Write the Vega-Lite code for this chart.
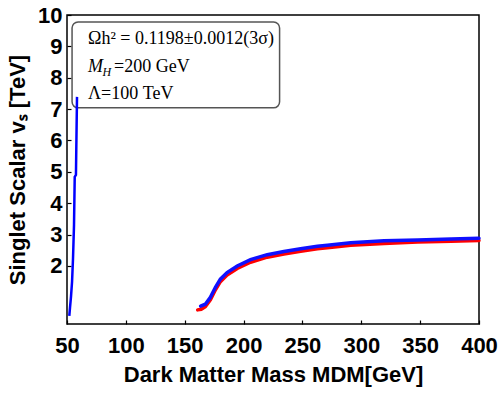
{
  "$schema": "https://vega.github.io/schema/vega-lite/v6.json",
  "width": 412,
  "height": 309,
  "autosize": {"type": "none"},
  "padding": {"left": 67, "top": 15, "right": 21, "bottom": 70},
  "config": {
    "view": {"stroke": "black", "strokeWidth": 1.5},
    "font": "Liberation Sans",
    "axis": {
      "grid": false,
      "domain": false,
      "tickSize": -4,
      "tickColor": "black",
      "tickWidth": 1.2,
      "labelFlush": false,
      "labelOverlap": false,
      "labelFont": "Liberation Sans",
      "labelFontSize": 22,
      "labelFontWeight": "bold",
      "labelColor": "black",
      "titleFont": "Liberation Sans",
      "titleFontSize": 22,
      "titleFontWeight": "bold",
      "titleColor": "black"
    }
  },
  "datasets": {
    "note": [{}],
    "left": [
      {"x": 51.96, "y": 0.41, "i": 0},
      {"x": 52.56, "y": 0.67, "i": 1},
      {"x": 53.4, "y": 1.02, "i": 2},
      {"x": 54.3, "y": 1.5, "i": 3},
      {"x": 55.1, "y": 2.23, "i": 4},
      {"x": 55.96, "y": 3.31, "i": 5},
      {"x": 56.56, "y": 4.84, "i": 6},
      {"x": 57.6, "y": 4.9, "i": 7},
      {"x": 58.5, "y": 7.39, "i": 8}
    ],
    "red": [
      {"x": 161.0, "y": 0.6},
      {"x": 164.0, "y": 0.62},
      {"x": 167.5, "y": 0.7},
      {"x": 171.8, "y": 0.92},
      {"x": 176.1, "y": 1.24},
      {"x": 180.3, "y": 1.5},
      {"x": 186.0, "y": 1.71},
      {"x": 194.6, "y": 1.92},
      {"x": 205.9, "y": 2.12},
      {"x": 220.1, "y": 2.28},
      {"x": 234.3, "y": 2.38},
      {"x": 248.5, "y": 2.47},
      {"x": 262.7, "y": 2.55},
      {"x": 271.2, "y": 2.58},
      {"x": 291.0, "y": 2.66},
      {"x": 319.4, "y": 2.72},
      {"x": 347.9, "y": 2.76},
      {"x": 376.3, "y": 2.79},
      {"x": 400.0, "y": 2.81}
    ],
    "blue": [
      {"x": 163.5, "y": 0.72},
      {"x": 167.5, "y": 0.78},
      {"x": 171.8, "y": 1.0},
      {"x": 176.1, "y": 1.32},
      {"x": 180.3, "y": 1.58},
      {"x": 186.0, "y": 1.79},
      {"x": 194.6, "y": 2.0},
      {"x": 205.9, "y": 2.2},
      {"x": 220.1, "y": 2.36},
      {"x": 234.3, "y": 2.46},
      {"x": 248.5, "y": 2.55},
      {"x": 262.7, "y": 2.63},
      {"x": 271.2, "y": 2.66},
      {"x": 291.0, "y": 2.74},
      {"x": 319.4, "y": 2.8},
      {"x": 347.9, "y": 2.83},
      {"x": 376.3, "y": 2.86},
      {"x": 400.0, "y": 2.88}
    ]
  },
  "layer": [
    {
      "data": {"name": "red"},
      "mark": {"type": "line", "color": "#ff0000", "strokeWidth": 3.5, "strokeCap": "round"},
      "encoding": {
        "x": {"field": "x", "type": "quantitative", "scale": {"domain": [50, 400], "nice": false, "zero": false},
          "axis": {"values": [50, 100, 150, 200, 250, 300, 350, 400], "title": "Dark Matter Mass MDM[GeV]", "labelPadding": 15, "titlePadding": 8}},
        "y": {"field": "y", "type": "quantitative", "scale": {"domain": [0.15, 10], "nice": false, "zero": false},
          "axis": {"values": [2, 3, 4, 5, 6, 7, 8, 9, 10], "title": "Singlet Scalar vₛ [TeV]", "labelPadding": 9, "titlePadding": 8}}
      }
    },
    {
      "data": {"name": "blue"},
      "mark": {"type": "line", "color": "#1010ff", "strokeWidth": 3.5, "strokeCap": "round"},
      "encoding": {
        "x": {"field": "x", "type": "quantitative", "scale": {"domain": [50, 400], "nice": false, "zero": false},
          "axis": {"values": [50, 100, 150, 200, 250, 300, 350, 400], "title": "Dark Matter Mass MDM[GeV]", "labelPadding": 15, "titlePadding": 8}},
        "y": {"field": "y", "type": "quantitative", "scale": {"domain": [0.15, 10], "nice": false, "zero": false},
          "axis": {"values": [2, 3, 4, 5, 6, 7, 8, 9, 10], "title": "Singlet Scalar vₛ [TeV]", "labelPadding": 9, "titlePadding": 8}}
      }
    },
    {
      "data": {"name": "note"},
      "mark": {"type": "rect", "fill": "white", "stroke": "#555555", "strokeWidth": 1.5, "cornerRadius": 6},
      "encoding": {
        "x": {"datum": 54.3, "type": "quantitative", "scale": {"domain": [50, 400], "nice": false, "zero": false},
          "axis": {"values": [50, 100, 150, 200, 250, 300, 350, 400], "title": "Dark Matter Mass MDM[GeV]", "labelPadding": 15, "titlePadding": 8}},
        "x2": {"datum": 230.6},
        "y": {"datum": 9.78, "type": "quantitative", "scale": {"domain": [0.15, 10], "nice": false, "zero": false},
          "axis": {"values": [2, 3, 4, 5, 6, 7, 8, 9, 10], "title": "Singlet Scalar vₛ [TeV]", "labelPadding": 9, "titlePadding": 8}},
        "y2": {"datum": 7.04}
      }
    },
    {
      "data": {"name": "left"},
      "mark": {"type": "line", "color": "#0000ff", "strokeWidth": 2.5},
      "encoding": {
        "x": {"field": "x", "type": "quantitative", "scale": {"domain": [50, 400], "nice": false, "zero": false},
          "axis": {"values": [50, 100, 150, 200, 250, 300, 350, 400], "title": "Dark Matter Mass MDM[GeV]", "labelPadding": 15, "titlePadding": 8}},
        "y": {"field": "y", "type": "quantitative", "scale": {"domain": [0.15, 10], "nice": false, "zero": false},
          "axis": {"values": [2, 3, 4, 5, 6, 7, 8, 9, 10], "title": "Singlet Scalar vₛ [TeV]", "labelPadding": 9, "titlePadding": 8}},
        "order": {"field": "i"}
      }
    },
    {
      "data": {"name": "note"},
      "mark": {"type": "text", "font": "Liberation Serif", "fontSize": 18, "align": "left", "baseline": "alphabetic", "color": "black"},
      "encoding": {
        "x": {"datum": 67.9, "type": "quantitative", "scale": {"domain": [50, 400], "nice": false, "zero": false},
          "axis": {"values": [50, 100, 150, 200, 250, 300, 350, 400], "title": "Dark Matter Mass MDM[GeV]", "labelPadding": 15, "titlePadding": 8}},
        "y": {"datum": 9.08, "type": "quantitative", "scale": {"domain": [0.15, 10], "nice": false, "zero": false},
          "axis": {"values": [2, 3, 4, 5, 6, 7, 8, 9, 10], "title": "Singlet Scalar vₛ [TeV]", "labelPadding": 9, "titlePadding": 8}},
        "text": {"value": "Ωh² = 0.1198±0.0012(3σ)"}
      }
    },
    {
      "data": {"name": "note"},
      "mark": {"type": "text", "font": "Liberation Serif", "fontSize": 18, "fontStyle": "italic", "align": "left", "baseline": "alphabetic", "color": "black"},
      "encoding": {
        "x": {"datum": 67.9, "type": "quantitative", "scale": {"domain": [50, 400], "nice": false, "zero": false},
          "axis": {"values": [50, 100, 150, 200, 250, 300, 350, 400], "title": "Dark Matter Mass MDM[GeV]", "labelPadding": 15, "titlePadding": 8}},
        "y": {"datum": 8.18, "type": "quantitative", "scale": {"domain": [0.15, 10], "nice": false, "zero": false},
          "axis": {"values": [2, 3, 4, 5, 6, 7, 8, 9, 10], "title": "Singlet Scalar vₛ [TeV]", "labelPadding": 9, "titlePadding": 8}},
        "text": {"value": "M"}
      }
    },
    {
      "data": {"name": "note"},
      "mark": {"type": "text", "font": "Liberation Serif", "fontSize": 12, "fontStyle": "italic", "align": "left", "baseline": "alphabetic", "color": "black", "dx": 14.5, "dy": 4},
      "encoding": {
        "x": {"datum": 67.9, "type": "quantitative", "scale": {"domain": [50, 400], "nice": false, "zero": false},
          "axis": {"values": [50, 100, 150, 200, 250, 300, 350, 400], "title": "Dark Matter Mass MDM[GeV]", "labelPadding": 15, "titlePadding": 8}},
        "y": {"datum": 8.18, "type": "quantitative", "scale": {"domain": [0.15, 10], "nice": false, "zero": false},
          "axis": {"values": [2, 3, 4, 5, 6, 7, 8, 9, 10], "title": "Singlet Scalar vₛ [TeV]", "labelPadding": 9, "titlePadding": 8}},
        "text": {"value": "H"}
      }
    },
    {
      "data": {"name": "note"},
      "mark": {"type": "text", "font": "Liberation Serif", "fontSize": 18, "align": "left", "baseline": "alphabetic", "color": "black", "dx": 26},
      "encoding": {
        "x": {"datum": 67.9, "type": "quantitative", "scale": {"domain": [50, 400], "nice": false, "zero": false},
          "axis": {"values": [50, 100, 150, 200, 250, 300, 350, 400], "title": "Dark Matter Mass MDM[GeV]", "labelPadding": 15, "titlePadding": 8}},
        "y": {"datum": 8.18, "type": "quantitative", "scale": {"domain": [0.15, 10], "nice": false, "zero": false},
          "axis": {"values": [2, 3, 4, 5, 6, 7, 8, 9, 10], "title": "Singlet Scalar vₛ [TeV]", "labelPadding": 9, "titlePadding": 8}},
        "text": {"value": "=200 GeV"}
      }
    },
    {
      "data": {"name": "note"},
      "mark": {"type": "text", "font": "Liberation Serif", "fontSize": 18, "align": "left", "baseline": "alphabetic", "color": "black"},
      "encoding": {
        "x": {"datum": 67.9, "type": "quantitative", "scale": {"domain": [50, 400], "nice": false, "zero": false},
          "axis": {"values": [50, 100, 150, 200, 250, 300, 350, 400], "title": "Dark Matter Mass MDM[GeV]", "labelPadding": 15, "titlePadding": 8}},
        "y": {"datum": 7.31, "type": "quantitative", "scale": {"domain": [0.15, 10], "nice": false, "zero": false},
          "axis": {"values": [2, 3, 4, 5, 6, 7, 8, 9, 10], "title": "Singlet Scalar vₛ [TeV]", "labelPadding": 9, "titlePadding": 8}},
        "text": {"value": "Λ=100 TeV"}
      }
    }
  ]
}
